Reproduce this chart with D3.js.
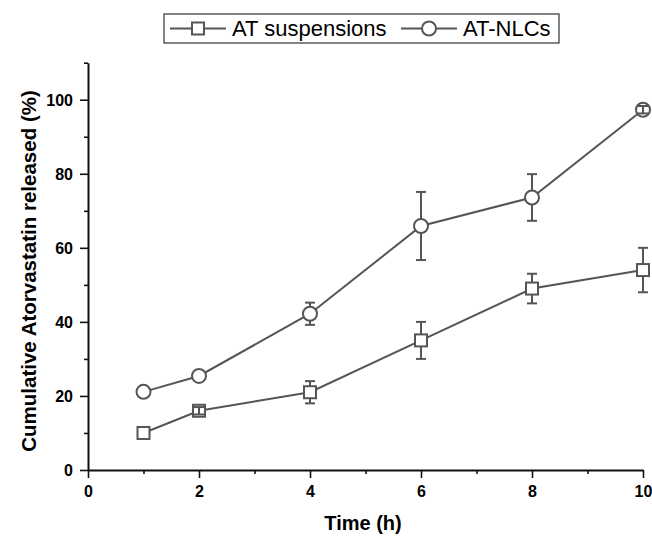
<!DOCTYPE html>
<html lang="en">

<head>
  <meta charset="UTF-8">
  <script src="https://d3js.org/d3.v7.min.js"></script>
  <style>
    body { margin: 0; background: #fff; }
    text { font-family: "Liberation Sans", Arial, sans-serif; }
  </style>
</head>

<body>
  <svg id="chart-svg" width="652" height="536"></svg>

  <script>
    // data
    const times = [1, 2, 4, 6, 8, 10];
    const suspMean = [10, 16, 21, 35, 49, 54];
    const suspErr = [0, 1, 3, 5, 4, 6];
    const nlcMean = [21.1, 25.4, 42.2, 65.9, 73.6, 97.3];
    const nlcErr = [0, 0, 3, 9.2, 6.3, 1];
    const seriesNames = ["AT suspensions", "AT-NLCs"];
    const xTicks = [0, 2, 4, 6, 8, 10];
    const xMinor = [1, 3, 5, 7, 9];
    const yTicks = [0, 20, 40, 60, 80, 100];
    const yMinor = [10, 30, 50, 70, 90, 110];

    const svg = d3.select("#chart-svg");
    const lineColor = "#555";

    const x = d3.scaleLinear().domain([0, 10]).range([88, 643]);
    const y = d3.scaleLinear().domain([0, 110]).range([470, 62.7]);

    // axes
    const xAxis = svg.append("g").attr("transform", "translate(0,470)")
      .call(d3.axisBottom(x).tickValues(xTicks).tickSize(8).tickSizeOuter(0));
    svg.append("g").attr("transform", "translate(0,470)")
      .call(d3.axisBottom(x).tickValues(xMinor).tickSize(4).tickFormat("").tickSizeOuter(0))
      .select(".domain").remove();
    const yAxis = svg.append("g").attr("transform", "translate(88,0)")
      .call(d3.axisLeft(y).tickValues(yTicks).tickSize(8).tickSizeOuter(0));
    svg.append("g").attr("transform", "translate(88,0)")
      .call(d3.axisLeft(y).tickValues(yMinor).tickSize(4).tickFormat("").tickSizeOuter(0))
      .select(".domain").remove();

    svg.selectAll(".domain").attr("stroke", "#111").attr("stroke-width", 2);
    svg.selectAll(".tick line").attr("stroke", "#111").attr("stroke-width", 1.6);
    svg.selectAll(".tick text")
      .attr("font-family", "'Liberation Sans', Arial, sans-serif")
      .attr("font-size", 16).attr("font-weight", "bold").attr("fill", "#000");
    xAxis.selectAll(".tick text").attr("y", 9).attr("dy", "1.1em");
    yAxis.selectAll(".tick text").attr("x", -15).attr("dy", "0.35em");

    // axis titles
    svg.append("text")
      .attr("x", 363).attr("y", 530)
      .attr("text-anchor", "middle")
      .attr("font-size", 20).attr("font-weight", "bold")
      .text("Time (h)");
    svg.append("text")
      .attr("transform", "translate(36,271) rotate(-90)")
      .attr("text-anchor", "middle")
      .attr("font-size", 20.5).attr("font-weight", "bold")
      .text("Cumulative Atorvastatin released (%)");

    const susp = times.map((t, i) => ({ t: t, v: suspMean[i], e: suspErr[i] }));
    const nlc = times.map((t, i) => ({ t: t, v: nlcMean[i], e: nlcErr[i] }));

    const line = d3.line().x(d => x(d.t)).y(d => y(d.v));
    const half = 6.5;

    function drawErr(sel) {
      sel.append("line")
        .attr("x1", d => x(d.t)).attr("x2", d => x(d.t))
        .attr("y1", d => y(d.v + d.e)).attr("y2", d => y(d.v - d.e));
      sel.append("line")
        .attr("x1", d => x(d.t) - 5).attr("x2", d => x(d.t) + 5)
        .attr("y1", d => y(d.v + d.e)).attr("y2", d => y(d.v + d.e));
      sel.append("line")
        .attr("x1", d => x(d.t) - 5).attr("x2", d => x(d.t) + 5)
        .attr("y1", d => y(d.v - d.e)).attr("y2", d => y(d.v - d.e));
      sel.selectAll("line").attr("stroke", lineColor).attr("stroke-width", 2);
    }

    function drawSeries(data, shape) {
      const g = svg.append("g");
      g.append("path").datum(data)
        .attr("d", line)
        .attr("fill", "none")
        .attr("stroke", lineColor)
        .attr("stroke-width", 2);

      const big = data.filter(d => d.e > 0 && y(0) - y(d.e) > half);
      const small = data.filter(d => d.e > 0 && y(0) - y(d.e) <= half);

      g.selectAll("g.err").data(big).join("g").attr("class", "err").call(drawErr);

      if (shape === "square") {
        g.selectAll("rect.mk").data(data).join("rect").attr("class", "mk")
          .attr("x", d => x(d.t) - 6).attr("y", d => y(d.v) - 6)
          .attr("width", 12).attr("height", 12)
          .attr("fill", "#fff")
          .attr("stroke", lineColor).attr("stroke-width", 2);
      } else {
        g.selectAll("circle.mk").data(data).join("circle").attr("class", "mk")
          .attr("cx", d => x(d.t)).attr("cy", d => y(d.v)).attr("r", 7)
          .attr("fill", "#fff")
          .attr("stroke", lineColor).attr("stroke-width", 2);
      }

      // short error bars sit inside the marker and show on top of it
      g.selectAll("g.errs").data(small).join("g").attr("class", "errs").call(drawErr);
    }

    drawSeries(susp, "square");
    drawSeries(nlc, "circle");

    // legend
    const legend = svg.append("g");
    legend.append("rect")
      .attr("x", 164).attr("y", 14).attr("width", 395).attr("height", 29)
      .attr("fill", "#fff").attr("stroke", "#333").attr("stroke-width", 1.2);
    const items = [
      { name: seriesNames[0], shape: "square", x0: 170 },
      { name: seriesNames[1], shape: "circle", x0: 401 }
    ];
    items.forEach(it => {
      legend.append("line")
        .attr("x1", it.x0).attr("x2", it.x0 + 56)
        .attr("y1", 28.5).attr("y2", 28.5)
        .attr("stroke", lineColor).attr("stroke-width", 2);
      if (it.shape === "square") {
        legend.append("rect")
          .attr("x", it.x0 + 28 - 6).attr("y", 28.5 - 6)
          .attr("width", 12).attr("height", 12)
          .attr("fill", "#fff").attr("stroke", lineColor).attr("stroke-width", 2);
      } else {
        legend.append("circle")
          .attr("cx", it.x0 + 28).attr("cy", 28.5).attr("r", 7)
          .attr("fill", "#fff").attr("stroke", lineColor).attr("stroke-width", 2);
      }
      legend.append("text")
        .attr("x", it.x0 + 62).attr("y", 36)
        .attr("font-size", 22).attr("fill", "#000")
        .text(it.name);
    });
  </script>
</body>

</html>
